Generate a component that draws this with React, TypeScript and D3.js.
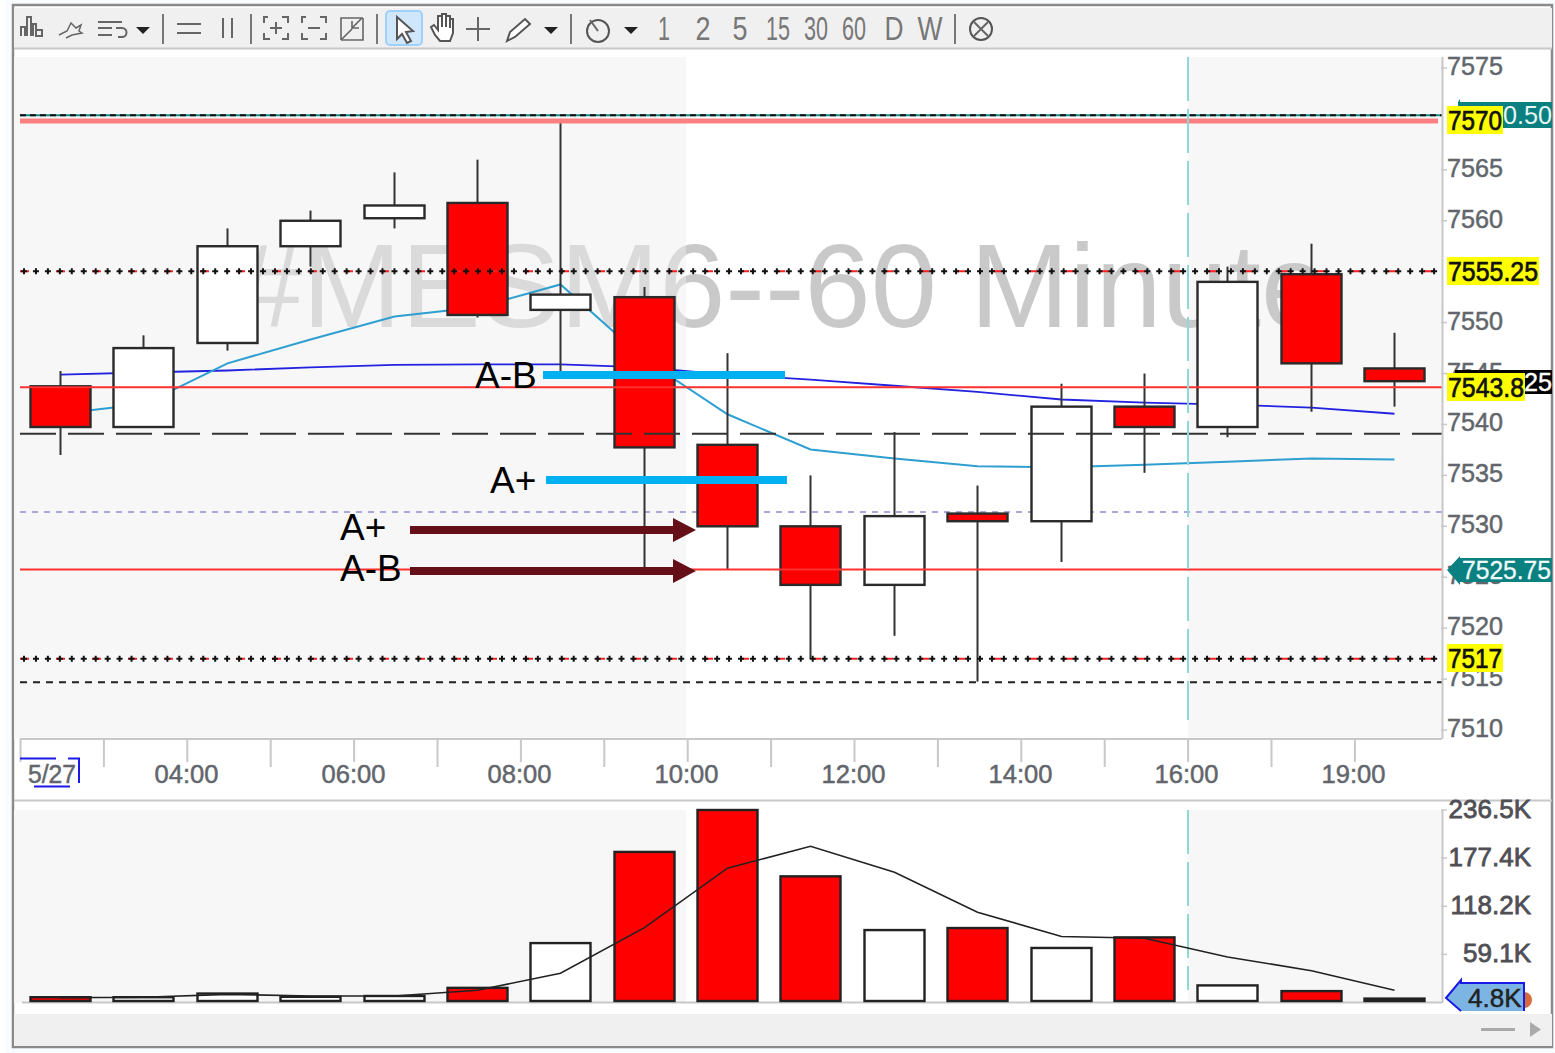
import React from "react";
import * as d3 from "d3";

const highs = [7545.25,7548.75,7559.25,7561,7564.75,7566,7570,7553.5,7547,7535,7539.25,7534,7544,7545,7555.5,7557.75,7549];
const bodyTops = [7543.75,7547.5,7557.5,7560,7561.5,7561.75,7552.75,7552.5,7538,7530,7531,7531.25,7541.75,7541.75,7554,7554.75,7545.5];
const bodyBottoms = [7539.75,7539.75,7548,7557.5,7560.25,7550.75,7551.25,7537.75,7530,7524.25,7524.25,7530.5,7530.5,7539.75,7539.75,7546,7544.25];
const lows = [7537,7539.75,7547.25,7555.5,7559.25,7550.5,7545.25,7525.75,7525.75,7517,7519.25,7514.75,7526.5,7535.25,7538.75,7541.25,7541.75];
const isDown = [1,0,0,0,0,1,0,1,1,1,0,1,0,1,0,1,1];
const volumes = [6.5,6.5,11,7,8,18,73,185,236.5,155,89,91.5,67,80,21,14,4.8];
const volumeAvg = [6,6.5,10,8,8,15,36,92,165,192,160,111,81,79,56,39,15];
const fastMaIdx = [0,1,1.4,2,3,4,5,6,7,8,9,10,11,12,13,14,15,16];
const fastMa = [7541.05,7542,7543.6,7546,7548.35,7550.6,7551.5,7553.75,7546.4,7541,7537.55,7536.65,7535.9,7535.8,7536.05,7536.35,7536.65,7536.55];
const slowMaIdx = [0,1,2,3,4,5,6,7,8,9,10,11,12,13,14,15,16];
const slowMa = [7544.9,7545.1,7545.3,7545.6,7545.85,7545.9,7545.9,7545.6,7544.9,7544.4,7543.8,7543.2,7542.45,7542.15,7541.95,7541.65,7541.05];
const priceTicks = [7575,7565,7560,7550,7545,7540,7535,7530,7525,7520,7515,7510];
const volumeTicks = [["236.5K",236.5],["177.4K",177.4],["118.2K",118.2],["59.1K",59.1]] as const;
const timeLabels = [["04:00",2],["06:00",4],["08:00",6],["10:00",8],["12:00",10],["14:00",12],["16:00",14],["19:00",16]] as const;
const toolbarNumbers = [["1",664,12],["2",703,15],["5",740,15],["15",778,24],["30",816,24],["60",854,24],["D",894,19],["W",930,25]] as const;

const W = 1555, H = 1053;
const y = d3.scaleLinear().domain([7510, 7575]).range([730, 68]);
const xRaw = d3.scaleLinear().domain([0, 16]).range([60.6, 1394.6]);
const x = (i: number) => (Number.isInteger(i) ? Math.floor(xRaw(i)) + 0.5 : xRaw(i));
const vy = d3.scaleLinear().domain([0, 236.5]).range([1002.5, 810]);
const BAR = 60;
const LABEL = "'Liberation Sans', Arial, sans-serif";
const GREY = "#62666c";

const maLine = d3.line<[number, number]>().x(d => x(d[0])).y(d => y(d[1]));
const volLine = d3.line<number>().x((_, i) => x(i)).y(d => vy(d));

function Icon({ d, sw = 2 }: { d: string; sw?: number }) {
  return <path d={d} fill="none" stroke="#666" strokeWidth={sw} />;
}

function Toolbar() {
  const seps = [163, 251, 377, 571, 955];
  return (
    <g>
      <rect x={14} y={8} width={1538} height={40} fill="#f0f0f0" />
      <line x1={14} x2={1552} y1={48.5} y2={48.5} stroke="#c8c8c8" strokeWidth={2} />
      {seps.map(s => <line key={s} x1={s} x2={s} y1={14} y2={44} stroke="#777" strokeWidth={2} />)}
      <Icon d="M21 36V27h4v9M27 36V17h4v19M33 36V24h3v12M36 30h6v6h-6z" />
      <Icon d="M59 35l8-4 4-8 5 5 5-3-2 6 3 2-10 2-6 3" sw={1.5} />
      <Icon d="M98 22h24M98 28h14M98 35h14M116 28h6a4 4 0 0 1 0 9h-4" />
      <path d="M136 27h14l-7 7z" fill="#222" />
      <Icon d="M177 24h24M177 33h24" />
      <Icon d="M223 18v20M232 18v20" />
      <Icon d="M268 17h-4v6M282 17h6v6M264 33v6h6M288 33v6h-6M276 22v12M270 28h12" />
      <Icon d="M306 17h-4v6M320 17h6v6M302 33v6h6M326 33v6h-6M308 28h12" />
      <Icon d="M341 40V18h22M363 18v8M341 40h22v-14M362 18l-10 10v-7M352 28h7M342 39l10-10" sw={1.6} />
      <rect x={386} y={11} width={36} height={34} rx={4} fill="#cfe6fb" stroke="#9fd0f7" strokeWidth={2} />
      <path d="M397 17l16 14-7 1 5 9-4 2-5-9-5 5z" fill="#fff" stroke="#555" strokeWidth={2} />
      <path d="M431 27l4 8 5 6h10l3-8v-14h-3v9-12h-4v11-13h-4v13-11h-4v14l-4-5z" fill="#fff" stroke="#555" strokeWidth={2} />
      <Icon d="M478 17v24M466 29h24" />
      <path d="M507 41l3-9 15-13 5 5-15 13z" fill="#fff" stroke="#555" strokeWidth={2} />
      <path d="M544 27h14l-7 7z" fill="#222" />
      <circle cx={598} cy={31} r={11} fill="none" stroke="#555" strokeWidth={2} />
      <Icon d="M590 20l8 11" />
      <path d="M624 27h14l-7 7z" fill="#222" />
      {toolbarNumbers.map(([t, px, w]) => (
        <text key={t} x={px} y={40} textAnchor="middle" fontFamily={LABEL} fontSize={33} fill="#777"
          textLength={w} lengthAdjust="spacingAndGlyphs">{t}</text>
      ))}
      <circle cx={981} cy={29} r={11} fill="none" stroke="#555" strokeWidth={2} />
      <Icon d="M974 22l14 14M988 22l-14 14" />
    </g>
  );
}

function Candles() {
  return (
    <g>
      {highs.map((h, i) => {
        const cx = x(i);
        return (
          <g key={i}>
            <line x1={cx} x2={cx} y1={y(h)} y2={y(lows[i])} stroke="#333" strokeWidth={2} />
            <rect x={cx - BAR / 2} y={y(bodyTops[i])} width={BAR} height={y(bodyBottoms[i]) - y(bodyTops[i])}
              fill={isDown[i] ? "#ff0000" : "#fff"} stroke="#2a2a2a" strokeWidth={2.4} />
          </g>
        );
      })}
    </g>
  );
}

function DottedLevel({ value }: { value: number }) {
  const py = y(value);
  return (
    <g>
      <line x1={20} x2={1442} y1={py} y2={py} stroke="#ff2020" strokeWidth={2} strokeDasharray="9 27" />
      {d3.range(24, 1436, 11.95).map(px => (
        <path key={px} d={`M${px - 3} ${py}h6M${px} ${py - 3}v6`} stroke="#111" strokeWidth={2} />
      ))}
    </g>
  );
}

function Arrow({ py }: { py: number }) {
  return <path d={`M410 ${py - 4}H673V${py - 12}L696 ${py}L673 ${py + 12}V${py + 4}H410Z`} fill="#651018" />;
}

function Annot({ t, px, py }: { t: string; px: number; py: number }) {
  return <text x={px} y={py} fontFamily={LABEL} fontSize={37} fill="#000">{t}</text>;
}

function YellowTag({ t, px, py, w }: { t: string; px: number; py: number; w: number }) {
  return (
    <g>
      <rect x={px} y={py - 14} width={w} height={28} fill="#ffff00" />
      <text x={px + 1} y={py + 10} fontFamily={LABEL} fontSize={27} stroke="#111" strokeWidth={0.7} fill="#111"
        textLength={w - 2} lengthAdjust="spacingAndGlyphs">{t}</text>
    </g>
  );
}

export default function App() {
  return (
    <svg width={W} height={H} viewBox={`0 0 ${W} ${H}`} style={{ position: "absolute", left: 0, top: 0, display: "block" }}>
      <defs>
        <linearGradient id="wm" gradientUnits="userSpaceOnUse" x1={0} x2={W} y1={0} y2={0}>
          <stop offset={686 / W} stopColor="#dadada" />
          <stop offset={686 / W} stopColor="#c9c9c9" />
        </linearGradient>
      </defs>
      <rect width={W} height={H} fill="#fff" />
      <rect x={6} y={0} width={W - 6} height={H} fill="#f8fbff" />
      <rect x={13} y={5} width={1539} height={1042} fill="#fff" stroke="#8a8a8a" strokeWidth={2.5} />
      <Toolbar />

      {/* session shading */}
      <rect x={14} y={57} width={672} height={682} fill="#f7f7f7" />
      <rect x={1188} y={57} width={254} height={682} fill="#f7f7f7" />
      <rect x={14} y={810} width={672} height={193} fill="#f7f7f7" />
      <rect x={1188} y={810} width={254} height={193} fill="#f7f7f7" />
      <rect x={14} y={1014} width={1538} height={32} fill="#f0f0f0" />

      {/* watermark */}
      <text x={236} y={327} fontFamily={LABEL} fontSize={119} fill="url(#wm)">#MESM6--60 Minute</text>

      {/* purple level behind the candles */}
      <line x1={20} x2={1442} y1={y(7531.4)} y2={y(7531.4)} stroke="#a8a8dc" strokeWidth={2} strokeDasharray="6 6" />

      <path d={maLine(slowMaIdx.map((v, i) => [v, slowMa[i]] as [number, number])) ?? ""} fill="none" stroke="#2222e0" strokeWidth={1.8} />
      <path d={maLine(fastMaIdx.map((v, i) => [v, fastMa[i]] as [number, number])) ?? ""} fill="none" stroke="#2e9fd0" strokeWidth={2} />

      <Candles />

      {/* level lines */}
      <line x1={20} x2={1442} y1={y(7570.35)} y2={y(7570.35)} stroke="#148a8a" strokeWidth={2} />
      <line x1={20} x2={1442} y1={y(7570.35)} y2={y(7570.35)} stroke="#111" strokeWidth={2} strokeDasharray="6 4" />
      <line x1={20} x2={1438} y1={y(7569.8)} y2={y(7569.8)} stroke="#ff8080" strokeWidth={5} />
      <DottedLevel value={7555.05} />
      <line x1={20} x2={1442} y1={y(7543.65)} y2={y(7543.65)} stroke="#ff3030" strokeWidth={2} />
      <line x1={20} x2={1442} y1={y(7539.1)} y2={y(7539.1)} stroke="#333" strokeWidth={2} strokeDasharray="36 12" />
      <line x1={20} x2={1442} y1={y(7525.75)} y2={y(7525.75)} stroke="#ff3030" strokeWidth={2} />
      <DottedLevel value={7517} />
      <line x1={20} x2={1442} y1={y(7514.7)} y2={y(7514.7)} stroke="#222" strokeWidth={2} strokeDasharray="7 6" />

      {/* session divider */}
      <line x1={1188} x2={1188} y1={57} y2={720} stroke="#8fd8d8" strokeWidth={2} strokeDasharray="44 8" />
      <line x1={1188} x2={1188} y1={810} y2={990} stroke="#8fd8d8" strokeWidth={2} strokeDasharray="44 8" />

      {/* annotations */}
      <line x1={543} x2={785} y1={375} y2={375} stroke="#00b0f0" strokeWidth={8} />
      <line x1={546} x2={787} y1={480} y2={480} stroke="#00b0f0" strokeWidth={8} />
      <Arrow py={530} />
      <Arrow py={571} />
      <Annot t="A-B" px={475} py={388} />
      <Annot t="A+" px={490} py={493} />
      <Annot t="A+" px={340} py={540} />
      <Annot t="A-B" px={340} py={581} />

      {/* price axis */}
      <line x1={1442.5} x2={1442.5} y1={57} y2={739} stroke="#c8c8c8" strokeWidth={2} />
      {priceTicks.map(t => (
        <g key={t}>
          <line x1={1441} x2={1447} y1={y(t)} y2={y(t)} stroke="#c8c8c8" strokeWidth={1.5} />
          <text x={1447} y={y(t) + 7} fontFamily={LABEL} fontSize={26} fill={GREY} stroke={GREY} strokeWidth={0.5}
            textLength={56} lengthAdjust="spacingAndGlyphs">{t}</text>
        </g>
      ))}

      {/* price tags */}
      <path d="M1458 102l2 -3 v3H1552V128H1458Z" fill="#0b8080" />
      <text x={1503} y={124} fontFamily={LABEL} fontSize={26} fill="#e8f6f6" textLength={49} lengthAdjust="spacingAndGlyphs">0.50</text>
      <YellowTag t="7570" px={1447} py={120} w={56} />
      <YellowTag t="7555.25" px={1447} py={271} w={92} />
      <rect x={1455} y={370} width={97} height={24} fill="#000" />
      <text x={1524} y={391} fontFamily={LABEL} fontSize={25} fill="#fff" stroke="#fff" strokeWidth={0.4} textLength={28} lengthAdjust="spacingAndGlyphs">25</text>
      <YellowTag t="7543.8" px={1447} py={387} w={78} />
      <path d="M1447 570L1460 556V558H1552V582H1460V585Z" fill="#0b8080" />
      <text x={1462} y={579} fontFamily={LABEL} fontSize={26} fill="#f0fafa" stroke="#f0fafa" strokeWidth={0.3} textLength={89} lengthAdjust="spacingAndGlyphs">7525.75</text>
      <YellowTag t="7517" px={1447} py={658} w={56} />

      {/* time axis */}
      <line x1={20} x2={1442} y1={739} y2={739} stroke="#c8c8c8" strokeWidth={2} />
      {d3.range(0, 17).map(k => (
        <line key={k} x1={20.5 + 83.4 * k} x2={20.5 + 83.4 * k} y1={739} y2={k % 2 === 1 ? 767 : 762} stroke="#c8c8c8" strokeWidth={2} />
      ))}
      <text x={28} y={783} fontFamily={LABEL} fontSize={26} fill={GREY} stroke={GREY} strokeWidth={0.5} textLength={48} lengthAdjust="spacingAndGlyphs">5/27</text>
      <path d="M20 758.5H56M68 758.5H79V783M34 786.5H70" fill="none" stroke="#1a1ae6" strokeWidth={2} />
      {timeLabels.map(([t, i]) => (
        <text key={t} x={x(i) - 41} y={783} textAnchor="middle" fontFamily={LABEL} fontSize={26} fill={GREY} stroke={GREY} strokeWidth={0.5}
          textLength={64} lengthAdjust="spacingAndGlyphs">{t}</text>
      ))}
      <line x1={14} x2={1552} y1={800.5} y2={800.5} stroke="#c8c8c8" strokeWidth={2} />

      {/* volume panel */}
      <line x1={22} x2={1442} y1={1002.5} y2={1002.5} stroke="#c8c8c8" strokeWidth={2} />
      {volumes.map((v, i) => (
        <rect key={i} x={x(i) - BAR / 2} y={vy(v)} width={BAR} height={vy(0) - vy(v) - 1.5}
          fill={isDown[i] ? "#ff0000" : "#fff"} stroke="#222" strokeWidth={2.4} />
      ))}
      <path d={volLine(volumeAvg) ?? ""} fill="none" stroke="#222" strokeWidth={1.6} />
      <line x1={1442.5} x2={1442.5} y1={810} y2={1003} stroke="#c8c8c8" strokeWidth={2} />
      {volumeTicks.map(([t, v]) => (
        <g key={t}>
          <line x1={1441} x2={1447} y1={vy(v)} y2={vy(v)} stroke="#c8c8c8" strokeWidth={1.5} />
          <text x={1531} y={vy(v) + 8} textAnchor="end" fontFamily={LABEL} fontSize={26} fill="#4f4f55" stroke="#4f4f55" strokeWidth={0.8}>{t}</text>
        </g>
      ))}
      <path d="M1524 992A8 8 0 0 1 1524 1008Z" fill="#d86a3a" />
      <path d="M1446 998L1461 980V983H1524V1011H1461Z" fill="#7cb5e4" />
      <path d="M1461 1011L1446 998L1461 980V983H1524V1011" fill="none" stroke="#1a1ae6" strokeWidth={2} strokeDasharray="78 0" />
      <text x={1468} y={1007} fontFamily={LABEL} fontSize={26} fill="#222" stroke="#222" strokeWidth={0.5}>4.8K</text>

      {/* scroll controls */}
      <rect x={1481} y={1028} width={34} height={3} fill="#aaa" />
      <path d="M1530 1022L1541 1029.5L1530 1037Z" fill="#aaa" />
    </svg>
  );
}
